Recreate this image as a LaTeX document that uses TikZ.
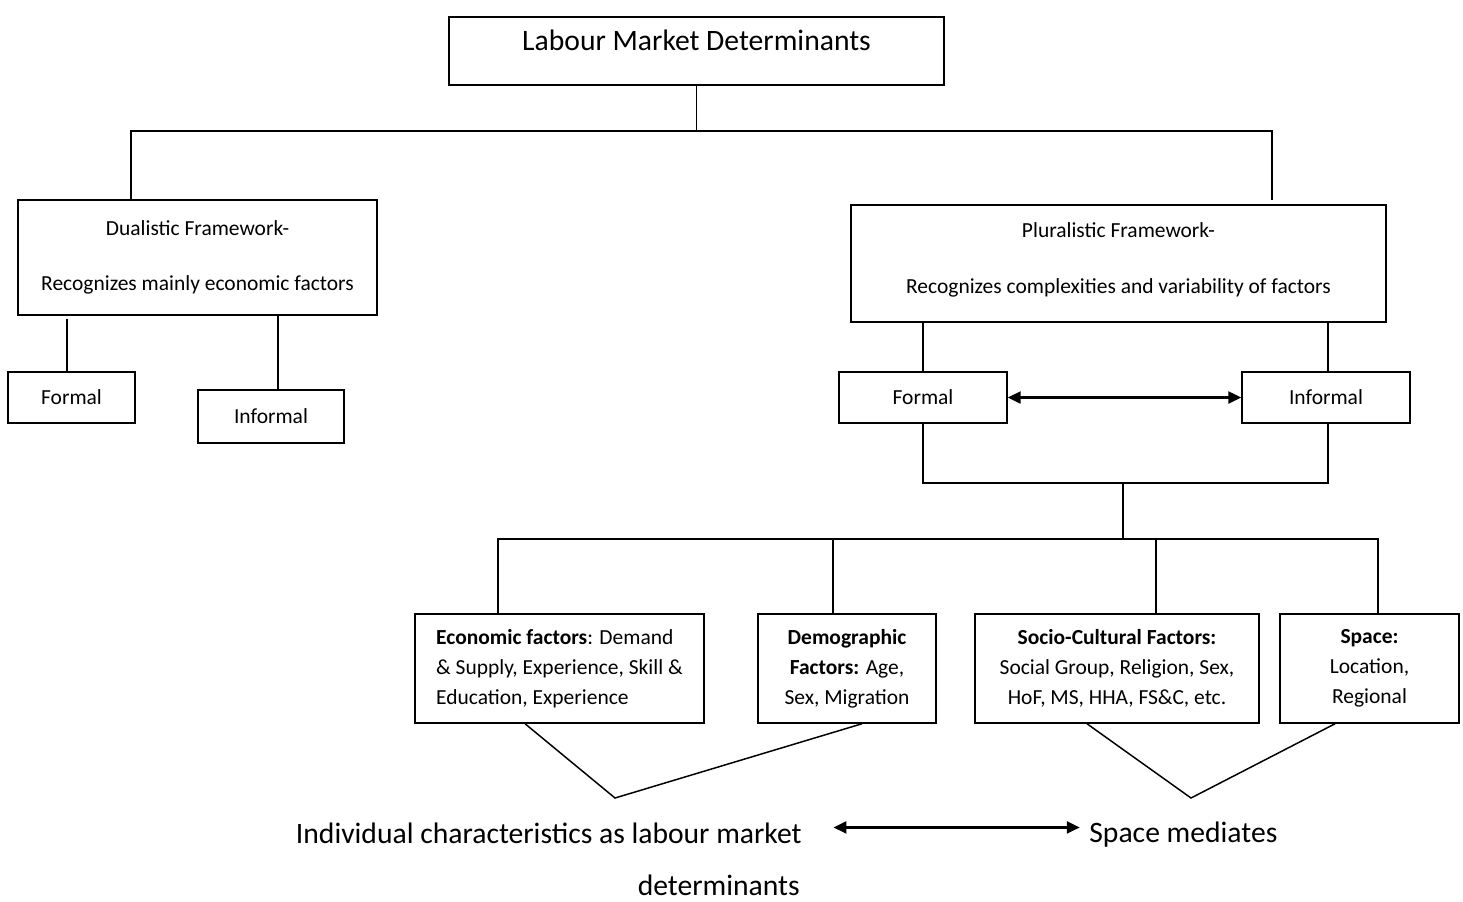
\documentclass[tikz,border=0pt]{standalone}
\usepackage{fontspec}
\setmainfont{Carlito}
\usetikzlibrary{arrows.meta}
\begin{document}
\begin{tikzpicture}[x=0.54pt,y=-0.54pt,
  sz/.style 2 args={minimum width=#1*0.54pt, minimum height=#2*0.54pt},
  box/.style={draw, line width=0.8pt, inner sep=0pt, align=center,
              font=\fontsize{11.6}{16.2}\selectfont},
  twoline/.style={font=\fontsize{11.6}{13.5}\selectfont},
  big/.style={inner sep=0pt, font=\fontsize{16}{19}\selectfont},
  link/.style={line width=0.8pt},
  both/.style={line width=1.2pt,
               {Triangle[length=7pt,width=6.5pt]}-{Triangle[length=7pt,width=6.5pt]}}
]
\useasboundingbox (0,0) rectangle (1463,901);

% top of the hierarchy
\node[box, sz={495}{68}] (top) at (696.5,51) {};
\node[big] (toptxt) at (696.5,40) {Labour Market Determinants};

% the two frameworks
\node[box, sz={359}{115}, twoline] (dual) at (197.5,257.5)
  {Dualistic Framework-\\[16.5pt]Recognizes mainly economic factors};
\node[box, sz={535}{117}, twoline, text depth=6pt] (plural) at (1118.5,263.5)
  {Pluralistic Framework-\\[16.5pt]Recognizes complexities and variability of factors};

% sectors
\node[box, sz={127}{51}] (lformal) at (71.5,397.5) {Formal};
\node[box, sz={146}{53}] (linformal) at (271,416.5) {Informal};
\node[box, sz={168}{51}] (rformal) at (923,397.5) {Formal};
\node[box, sz={168}{51}] (rinformal) at (1326,397.5) {Informal};

% factor groups
\node[box, sz={289}{109}, align=left] (econ) at (559.5,668.5)
  {\textbf{Economic factors}: Demand\\\& Supply, Experience, Skill \&\\Education, Experience};
\node[box, sz={178}{109}] (demo) at (847,668.5)
  {\textbf{Demographic}\\\textbf{Factors:} Age,\\Sex, Migration};
\node[box, sz={284}{109}] (socio) at (1117,668.5)
  {\textbf{Socio-Cultural Factors:}\\Social Group, Religion, Sex,\\HoF, MS, HHA, FS\&C, etc.};
\node[box, sz={179}{109}] (space) at (1369.5,668.5)
  {\textbf{Space:}\\Location,\\Regional};

% conclusions
\node[big, anchor=east] (ind1) at (802,833) {Individual characteristics as labour market};
\node[big, anchor=east] (ind2) at (800,885) {determinants};
\node[big, anchor=west] (spm) at (1089,835) {Space mediates};

% tree connectors
\coordinate (hb) at (696.5,131);
\coordinate (lt) at (131,131);
\coordinate (rt) at (1272,131);
\coordinate (rs) at (1272,200);
\draw[link] (top.south) -- (hb);
\draw[link] (lt |- dual.north) -- (lt) -- (rt) -- (rs);

\draw[link] ([xshift=-2.4pt]lformal.north) -- ([xshift=-2.4pt,yshift=-1.5pt]lformal.north |- dual.south);
\draw[link] ([xshift=3.8pt]linformal.north) -- ([xshift=3.8pt]linformal.north |- dual.south);

\draw[link] (rformal.north) -- (rformal.north |- plural.south);
\draw[link] ([xshift=1pt]rinformal.north) -- ([xshift=1pt]rinformal.north |- plural.south);
\draw[both] (rformal.east) -- (rinformal.west);

\coordinate (mid) at (1123,483);
\coordinate (fb) at (1123,539);
\draw[link] (rformal.south) |- (mid) -| ([xshift=1pt]rinformal.south);
\draw[link] (mid) -- (fb);

\coordinate (b1) at (498,539);
\coordinate (b2) at (833,539);
\coordinate (b3) at (1156,539);
\coordinate (b4) at (1378,539);
\draw[link] (b1 |- econ.north) -- (b1) -- (b4) -- (b4 |- space.north);
\draw[link] (b2) -- (b2 |- demo.north);
\draw[link] (b3) -- (b3 |- socio.north);

% convergence wedges
\coordinate (v1) at (615,798);
\coordinate (v2) at (1191,798);
\draw[link] ([xshift=-18.6pt]econ.south) -- (v1) -- ([xshift=8.1pt]demo.south);
\draw[link] ([xshift=-16.2pt]socio.south) -- (v2) -- ([xshift=-18.6pt]space.south);

\draw[both, shorten <=17pt, shorten >=5pt] ([yshift=3pt]ind1.east) -- ([yshift=3pt]ind1.east -| spm.west);
\end{tikzpicture}
\end{document}
